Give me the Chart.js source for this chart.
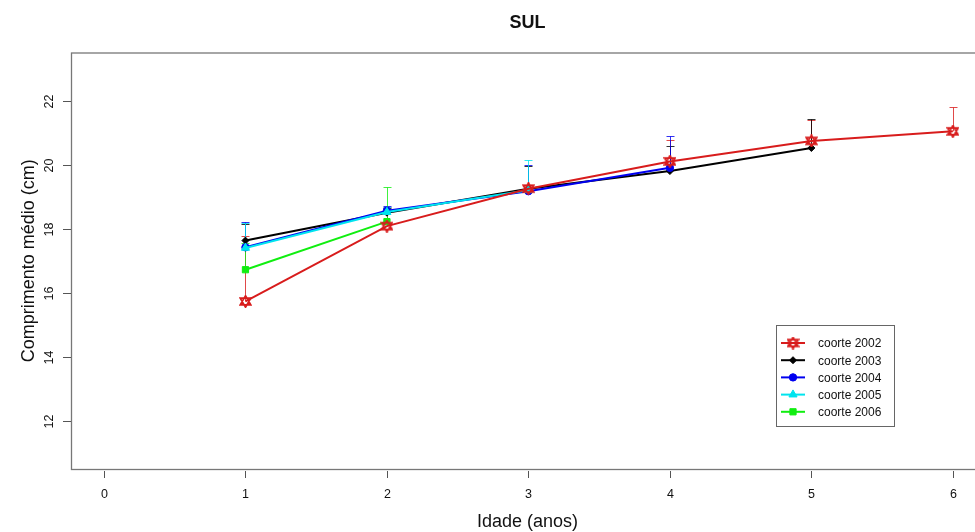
<!DOCTYPE html>
<html>
<head>
<meta charset="utf-8">
<script src="https://cdn.jsdelivr.net/npm/chart.js@4.4.1/dist/chart.umd.min.js"></script>
<style>
  html, body { margin: 0; padding: 0; background: #fff; overflow: hidden; }
  #wrap { width: 975px; height: 532px; overflow: hidden; position: relative; }
  #chart { position: absolute; left: 0; top: 0; }
</style>
</head>
<body>
<div id="wrap"><canvas id="chart" width="990" height="532"></canvas></div>
<script>
// values
var ages = [1, 2, 3, 4, 5, 6];
var xTicks = [0, 1, 2, 3, 4, 5, 6];
var yTicks = [12, 14, 16, 18, 20, 22];

var cohortNames = ['coorte 2002', 'coorte 2003', 'coorte 2004', 'coorte 2005', 'coorte 2006'];
var c2002 = [15.73, 18.08, 19.25, 20.1, 20.74, 21.04];
var c2003 = [17.63, 18.5, 19.25, 19.8, 20.52];
var c2004 = [17.42, 18.56, 19.17, 19.9];
var c2005 = [17.4, 18.52, 19.2];
var c2006 = [16.72, 18.22];

// upper end of the error bars
var up2002 = [17.76, 18.67, 19.35, 20.76, 21.4, 21.8];
var up2003 = [18.15, 18.65, 19.95, 20.57, 21.43];
var up2004 = [18.2, 18.7, 20.0, 20.88];
var up2005 = [18.18, 18.68, 20.13];
var up2006 = [17.55, 19.3];

var colors = ['#d81c1c', '#000000', '#0000f0', '#00e4ee', '#10ee10'];
var drawOrder = [0, 4, 3, 1, 2];
var FONT = '"Liberation Sans", Arial, sans-serif';

function hexagram(color) {
    var c = document.createElement('canvas');
    c.width = 13; c.height = 13;
    var g = c.getContext('2d');
    g.strokeStyle = color;
    g.lineWidth = 1.7;
    g.beginPath();
    g.moveTo(6.5, 0.8); g.lineTo(11.8, 9.8); g.lineTo(1.2, 9.8); g.closePath();
    g.moveTo(6.5, 12.2); g.lineTo(11.8, 3.2); g.lineTo(1.2, 3.2); g.closePath();
    g.stroke();
    return c;
}
var starImg = hexagram(colors[0]);

var styles = [
    { pointStyle: starImg, radius: 5 },
    { pointStyle: 'rectRot', radius: 3.5 },
    { pointStyle: 'circle', radius: 3.7 },
    { pointStyle: 'triangle', radius: 4.7 },
    { pointStyle: 'rect', radius: 4.4 }
];

var series = [c2002, c2003, c2004, c2005, c2006];
var uppers = [up2002, up2003, up2004, up2005, up2006];

function toPoints(arr) {
    return arr.map(function (v, i) { return { x: ages[i], y: v }; });
}

var datasets = [];
for (var i = 0; i < series.length; i++) {
    datasets.push({
        label: cohortNames[i],
        data: toPoints(series[i]),
        order: drawOrder[i],
        borderColor: colors[i],
        backgroundColor: colors[i],
        borderWidth: 2,
        pointStyle: styles[i].pointStyle,
        pointRadius: styles[i].radius,
        pointBorderWidth: 1,
        tension: 0,
        fill: false
    });
}

var rFrame = {
    id: 'rFrame',
    beforeDatasetsDraw: function (chart) {
        var ctx = chart.ctx, xs = chart.scales.x, ys = chart.scales.y;
        ctx.save();
        // error bars
        for (var i = 0; i < uppers.length; i++) {
            ctx.strokeStyle = colors[i];
            ctx.globalAlpha = 0.8;
            ctx.lineWidth = 1;
            for (var j = 0; j < uppers[i].length; j++) {
                var px = Math.round(xs.getPixelForValue(ages[j])) + 0.5;
                var y0 = ys.getPixelForValue(series[i][j]);
                var y1 = Math.round(ys.getPixelForValue(uppers[i][j])) + 0.5;
                ctx.beginPath();
                ctx.moveTo(px, y0); ctx.lineTo(px, y1);
                ctx.moveTo(px - 4, y1); ctx.lineTo(px + 4, y1);
                ctx.stroke();
            }
        }
        ctx.restore();
    },
    afterDraw: function (chart) {
        var ctx = chart.ctx, a = chart.chartArea, xs = chart.scales.x, ys = chart.scales.y;
        ctx.save();
        // box
        ctx.strokeStyle = '#777';
        ctx.lineWidth = 1.3;
        ctx.strokeRect(a.left + 0.5, a.top + 0.5, a.right - a.left, a.bottom - a.top);

        ctx.fillStyle = '#111';
        ctx.strokeStyle = '#555';
        ctx.lineWidth = 1;
        // y ticks
        ctx.font = '12.5px ' + FONT;
        ctx.textAlign = 'center';
        ctx.textBaseline = 'middle';
        yTicks.forEach(function (v) {
            var py = Math.round(ys.getPixelForValue(v)) + 0.5;
            ctx.beginPath();
            ctx.moveTo(a.left - 8, py); ctx.lineTo(a.left, py);
            ctx.stroke();
            ctx.save();
            ctx.translate(a.left - 21, py);
            ctx.rotate(-Math.PI / 2);
            ctx.fillText(String(v), 0, 0);
            ctx.restore();
        });
        // x ticks
        xTicks.forEach(function (v) {
            var px = Math.round(xs.getPixelForValue(v)) + 0.5;
            ctx.beginPath();
            ctx.moveTo(px, a.bottom + 2); ctx.lineTo(px, a.bottom + 9);
            ctx.stroke();
            ctx.fillText(String(v), px, a.bottom + 26);
        });

        // titles
        var cx = (a.left + a.right) / 2;
        ctx.font = 'bold 18px ' + FONT;
        ctx.fillText('SUL', cx, 23);
        ctx.font = '18px ' + FONT;
        ctx.fillText('Idade (anos)', cx, 522);
        ctx.save();
        ctx.translate(29, (a.top + a.bottom) / 2);
        ctx.rotate(-Math.PI / 2);
        ctx.fillText('Comprimento médio (cm)', 0, 0);
        ctx.restore();

        // legend
        var lx = 776.5, ly = 325.5, lw = 118, lh = 101;
        ctx.strokeStyle = '#666';
        ctx.lineWidth = 1;
        ctx.strokeRect(lx, ly, lw, lh);
        ctx.font = '12px ' + FONT;
        ctx.textAlign = 'left';
        for (var i = 0; i < cohortNames.length; i++) {
            var ey = 343 + i * 17.2;
            ctx.strokeStyle = colors[i];
            ctx.fillStyle = colors[i];
            ctx.lineWidth = 2;
            ctx.beginPath();
            ctx.moveTo(781, ey); ctx.lineTo(805, ey);
            ctx.stroke();
            ctx.lineWidth = 1;
            Chart.helpers.drawPoint(ctx, {
                pointStyle: styles[i].pointStyle,
                radius: styles[i].radius,
                rotation: 0,
                borderWidth: 1
            }, 793, ey);
            ctx.fillStyle = '#111';
            ctx.fillText(cohortNames[i], 818, ey + 1);
        }
        ctx.restore();
    }
};

var ctx = document.getElementById('chart').getContext('2d');
var chart = new Chart(ctx, {
    type: 'line',
    data: { datasets: datasets },
    options: {
        responsive: false,
        animation: false,
        layout: { padding: { left: 71, top: 52.5, right: 5, bottom: 63 } },
        plugins: {
            legend: { display: false },
            tooltip: { enabled: false },
            title: { display: false }
        },
        scales: {
            x: { type: 'linear', min: -0.233, max: 6.22, display: false },
            y: { type: 'linear', min: 10.5, max: 23.5, display: false }
        }
    },
    plugins: [rFrame]
});
</script>
</body>
</html>
